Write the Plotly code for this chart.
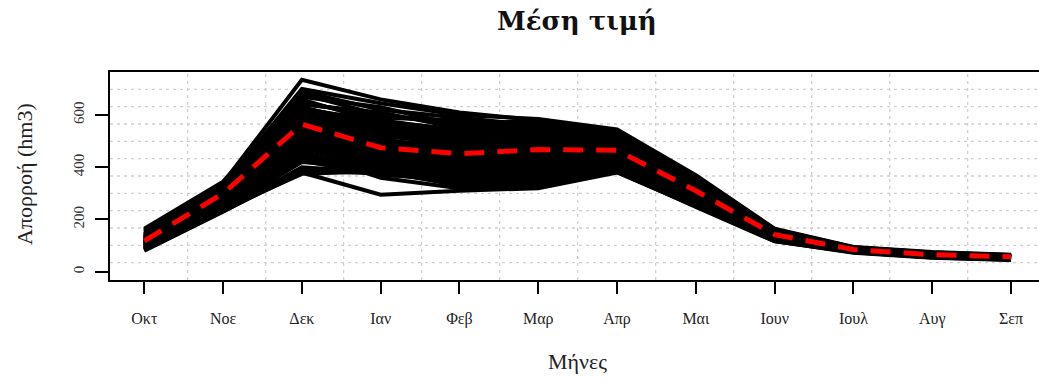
import plotly.graph_objects as go

months = ["Οκτ", "Νοε", "Δεκ", "Ιαν", "Φεβ", "Μαρ", "Απρ", "Μαι", "Ιουν", "Ιουλ", "Αυγ", "Σεπ"]
month_pos = list(range(1, 13))

# Ensemble runs (hm3), months Oct..Sep
upper_runs = [
    [160, 340, 735, 660, 610, 580, 540, 365, 162, 94, 74, 64],
    [150, 330, 700, 645, 600, 585, 545, 370, 165, 95, 75, 65],
    [140, 320, 690, 620, 590, 560, 530, 355, 158, 92, 72, 62],
    [165, 345, 680, 600, 570, 575, 535, 360, 160, 93, 73, 63],
    [130, 310, 670, 630, 560, 550, 520, 350, 155, 90, 70, 61],
    [155, 335, 650, 590, 580, 540, 510, 345, 152, 91, 71, 62],
    [145, 325, 640, 610, 550, 530, 525, 340, 150, 89, 70, 60],
    [135, 315, 620, 580, 540, 560, 500, 335, 148, 88, 69, 60],
    [142, 322, 660, 570, 530, 545, 515, 348, 153, 90, 71, 61],
    [138, 318, 630, 560, 520, 520, 505, 342, 151, 89, 70, 60],
    [133, 314, 645, 600, 565, 565, 525, 352, 154, 91, 71, 61],
    [128, 309, 625, 575, 545, 535, 515, 344, 150, 89, 69, 60],
]
middle_runs = [
    [125, 305, 600, 520, 490, 500, 490, 330, 147, 88, 68, 59],
    [115, 295, 580, 500, 470, 480, 480, 320, 145, 87, 67, 58],
    [120, 300, 560, 480, 460, 470, 470, 315, 143, 86, 66, 57],
    [110, 290, 550, 470, 450, 465, 460, 310, 140, 85, 65, 57],
    [118, 298, 590, 540, 500, 490, 475, 318, 144, 86, 66, 58],
    [105, 285, 540, 450, 440, 460, 455, 305, 138, 84, 64, 56],
    [128, 308, 570, 460, 430, 450, 465, 312, 141, 85, 65, 56],
    [112, 292, 530, 500, 480, 470, 450, 300, 136, 83, 63, 55],
    [122, 302, 610, 490, 420, 440, 470, 322, 146, 87, 66, 57],
    [108, 288, 520, 440, 460, 480, 445, 298, 135, 83, 63, 55],
    [117, 296, 575, 510, 455, 500, 485, 325, 144, 86, 66, 57],
    [102, 280, 555, 430, 410, 420, 440, 295, 134, 82, 62, 54],
    [132, 312, 615, 555, 510, 525, 512, 338, 149, 89, 69, 60],
    [126, 306, 605, 545, 525, 510, 500, 333, 148, 88, 68, 59],
    [124, 303, 595, 530, 505, 515, 495, 328, 146, 87, 67, 58],
    [119, 297, 585, 525, 485, 505, 492, 324, 145, 87, 67, 58],
    [114, 293, 565, 505, 475, 485, 478, 317, 143, 86, 66, 57],
    [111, 289, 545, 485, 465, 475, 468, 313, 141, 85, 65, 57],
    [121, 299, 600, 550, 535, 530, 505, 336, 147, 88, 68, 59],
    [116, 294, 560, 535, 515, 520, 498, 330, 145, 87, 67, 58],
    [113, 291, 570, 495, 495, 495, 488, 326, 144, 86, 66, 58],
    [106, 284, 510, 475, 470, 455, 462, 309, 139, 85, 65, 56],
]
lower_runs = [
    [100, 270, 500, 420, 400, 410, 430, 290, 132, 81, 61, 53],
    [95, 260, 480, 400, 380, 390, 420, 280, 130, 80, 60, 52],
    [90, 250, 450, 390, 370, 380, 410, 275, 128, 79, 59, 51],
    [88, 245, 440, 410, 360, 360, 400, 270, 125, 78, 58, 50],
    [85, 240, 420, 395, 350, 350, 395, 265, 122, 77, 57, 49],
    [92, 235, 400, 380, 340, 340, 390, 260, 120, 76, 56, 48],
    [82, 232, 380, 295, 310, 320, 380, 250, 118, 75, 55, 47],
    [87, 238, 375, 385, 330, 330, 385, 248, 116, 74, 54, 46],
    [98, 255, 460, 360, 320, 335, 400, 255, 120, 76, 56, 48],
    [80, 230, 390, 375, 345, 345, 382, 252, 117, 73, 53, 45],
    [107, 286, 535, 465, 445, 455, 458, 307, 139, 84, 64, 56],
    [104, 283, 525, 455, 435, 445, 452, 303, 137, 84, 64, 56],
    [101, 278, 515, 445, 425, 435, 447, 299, 135, 83, 63, 55],
    [99, 274, 505, 435, 415, 430, 442, 296, 134, 82, 62, 54],
    [97, 268, 495, 425, 405, 415, 437, 292, 133, 81, 61, 53],
    [94, 263, 485, 415, 395, 405, 428, 286, 131, 80, 60, 52],
    [91, 257, 470, 405, 385, 395, 423, 282, 129, 79, 59, 51],
    [89, 252, 455, 395, 375, 385, 415, 277, 127, 79, 59, 51],
    [86, 247, 435, 385, 365, 370, 405, 272, 124, 78, 58, 50],
    [84, 242, 425, 370, 355, 365, 398, 267, 122, 77, 57, 49],
]
mean_values = [118, 300, 565, 475, 452, 468, 465, 310, 142, 85, 65, 57]

y_ticks = [0, 200, 400, 600]

x_range = [0.565, 12.355]
y_range = [-31.8, 765]
# R grid(nx=12, ny=12) over the full R plot region
r_xlim = [0.56, 12.44]

fig = go.Figure()

for run in upper_runs + middle_runs + lower_runs:
    fig.add_trace(go.Scatter(x=month_pos, y=run, mode="lines",
                             line=dict(color="black", width=4),
                             hoverinfo="skip", showlegend=False))

fig.add_trace(go.Scatter(x=month_pos, y=mean_values, mode="lines",
                         line=dict(color="#ff0000", width=5, dash="20px,13px"),
                         showlegend=False))

shapes = []
for k in range(1, 12):
    gx = r_xlim[0] + k * (r_xlim[1] - r_xlim[0]) / 12
    shapes.append(dict(type="line", xref="x", yref="paper", x0=gx, x1=gx, y0=0, y1=1,
                       line=dict(color="#cfcfcf", width=1.3, dash="3px,4px"), layer="below"))
    gy = y_range[0] + k * (y_range[1] - y_range[0]) / 12
    shapes.append(dict(type="line", xref="paper", yref="y", x0=0, x1=1, y0=gy, y1=gy,
                       line=dict(color="#cfcfcf", width=1.3, dash="3px,4px"), layer="below"))

font_family = "Liberation Serif, DejaVu Serif, serif"

fig.update_layout(
    width=1039, height=382,
    margin=dict(l=110, r=0, t=72, b=102),
    paper_bgcolor="white", plot_bgcolor="white",
    shapes=shapes,
    font=dict(family=font_family, color="#222222"),
    annotations=[
        dict(text="<b>Μέση τιμή</b>", xref="paper", yref="paper", x=0.5027, y=1.245,
             showarrow=False, font=dict(size=26, family="DejaVu Serif, serif", color="#111111"),
             xanchor="center", yanchor="middle"),
        dict(text="Μήνες", xref="paper", yref="paper", x=0.5027, y=-0.394,
             showarrow=False, font=dict(size=22, family=font_family, color="#222222"),
             xanchor="center", yanchor="middle"),
        dict(text="Απορροή (hm3)", xref="paper", yref="paper", x=-0.0915, y=0.51,
             showarrow=False, textangle=-90, font=dict(size=22, family=font_family, color="#222222"),
             xanchor="center", yanchor="middle"),
    ],
)

fig.update_xaxes(range=x_range, tickmode="array", tickvals=month_pos, ticktext=months,
                 ticks="outside", ticklen=12, tickwidth=2, tickcolor="black",
                 showline=True, linecolor="black", linewidth=2, mirror=True,
                 showgrid=False, zeroline=False, ticklabelstandoff=11,
                 tickfont=dict(size=16, family=font_family, color="#222222"))
fig.update_yaxes(range=y_range, tickmode="array", tickvals=y_ticks,
                 ticks="outside", ticklen=13, tickwidth=2, tickcolor="black",
                 showline=True, linecolor="black", linewidth=2, mirror=False,
                 showgrid=False, zeroline=False, tickangle=-90, ticklabelstandoff=5,
                 tickfont=dict(size=15, family=font_family, color="#333333"))

fig.write_html("out.html")
